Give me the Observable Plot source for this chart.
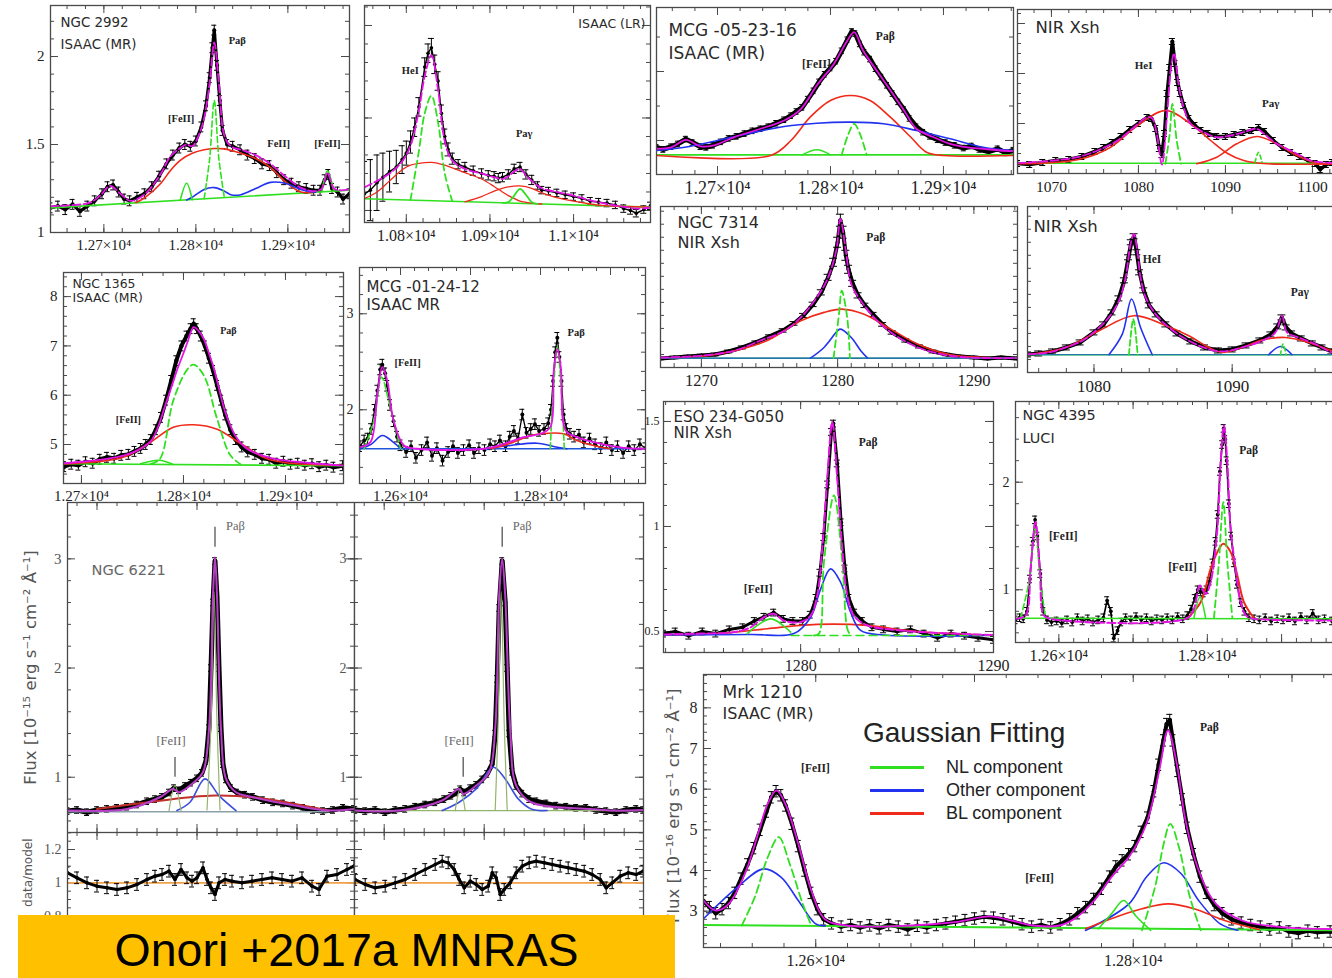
<!DOCTYPE html>
<html><head><meta charset="utf-8">
<script src="https://cdn.jsdelivr.net/npm/d3@7"></script>
<script src="https://cdn.jsdelivr.net/npm/@observablehq/plot@0.6"></script>
<style>
body{margin:0;background:#fff;}
#page{position:relative;width:1332px;height:978px;overflow:hidden;background:#fff;}
</style></head><body><div id="page"></div>
<script>
// ---------- DATA ----------
// P1 NGC 2992
const p1_data=[[12642,1.14],[12650,1.15],[12658,1.13],[12666,1.16],[12674,1.12],[12682,1.15],[12690,1.18],[12698,1.22],[12704,1.26],[12710,1.27],[12716,1.23],[12722,1.19],[12728,1.18],[12736,1.20],[12744,1.22],[12752,1.26],[12760,1.32],[12768,1.39],[12775,1.44],[12782,1.48],[12788,1.50],[12794,1.49],[12800,1.52],[12806,1.60],[12811,1.72],[12815,1.88],[12818,2.05],[12820,2.15],[12823,1.95],[12826,1.75],[12829,1.58],[12834,1.50],[12840,1.49],[12848,1.47],[12856,1.44],[12864,1.42],[12872,1.39],[12880,1.38],[12888,1.34],[12896,1.30],[12904,1.28],[12912,1.26],[12920,1.25],[12928,1.24],[12935,1.24],[12940,1.30],[12944,1.33],[12948,1.25],[12954,1.23],[12960,1.19],[12967,1.22]];
const p1_total=[[12642,1.15],[12664,1.155],[12685,1.17],[12696,1.21],[12707,1.265],[12718,1.22],[12729,1.18],[12745,1.22],[12762,1.335],[12772,1.43],[12783,1.48],[12790,1.50],[12796,1.49],[12803,1.55],[12809,1.65],[12815,1.85],[12820,2.08],[12825,1.85],[12831,1.55],[12838,1.49],[12849,1.47],[12865,1.44],[12881,1.39],[12897,1.32],[12914,1.255],[12930,1.235],[12937,1.25],[12943,1.34],[12950,1.25],[12957,1.24],[12967,1.245]];
const p1_bl=[[12735,1.17],[12745,1.20],[12762,1.28],[12772,1.35],[12783,1.41],[12796,1.45],[12809,1.47],[12820,1.477],[12831,1.475],[12849,1.45],[12865,1.42],[12881,1.37],[12897,1.29],[12914,1.23],[12930,1.229]];
const p1_other=[[12790,1.185],[12796,1.20],[12809,1.245],[12820,1.255],[12831,1.235],[12838,1.215],[12849,1.215],[12865,1.25],[12881,1.285],[12897,1.28],[12914,1.245],[12930,1.229]];
const p1_nl_fe1=[[12783,1.183],[12790,1.28],[12796,1.187]];
const p1_nl_pab=[[12809,1.192],[12815,1.42],[12820,1.75],[12825,1.42],[12831,1.197]];
const p1_nl_fe2=[[12937,1.231],[12943,1.35],[12950,1.234]];
const p1_cont=[[12642,1.14],[12967,1.24]];
const p1_lines=[["Paβ",12845,2.09],["[FeII]",12784,1.648],["FeII]",12890,1.506],["[FeII]",12943,1.506]];
const p1_xt=[12700,12800,12900], p1_yt=[1,1.5,2];

// P2 ISAAC (LR)
const p2_data=[[10750,1.18,0.35],[10757,1.22,0.33],[10765,1.30,0.30],[10772,1.36,0.26],[10780,1.42,0.22],[10788,1.47,0.18],[10795,1.55,0.15],[10800,1.62,0.13],[10805,1.74,0.12],[10810,1.90,0.1],[10815,2.12,0.1],[10822,2.55,0.1],[10826,2.70,0.1],[10830,2.76,0.1],[10834,2.58,0.1],[10838,2.40,0.1],[10842,2.05,0.09],[10846,1.80,0.08],[10850,1.66,0.07],[10855,1.56,0.06],[10862,1.50,0.05],[10870,1.47,0.05],[10880,1.43,0.05],[10890,1.40,0.05],[10898,1.38,0.05],[10905,1.37,0.05],[10910,1.35,0.05],[10915,1.36,0.05],[10922,1.39,0.05],[10929,1.45,0.05],[10936,1.47,0.05],[10943,1.39,0.05],[10950,1.33,0.05],[10957,1.27,0.04],[10962,1.22,0.04],[10970,1.21,0.04],[10980,1.19,0.04],[10990,1.17,0.04],[11000,1.15,0.04],[11010,1.13,0.04],[11020,1.10,0.04],[11030,1.09,0.04],[11040,1.08,0.04],[11050,1.06,0.04],[11060,1.02,0.04],[11068,1.00,0.04],[11075,0.97,0.04],[11084,1.01,0.04],[11092,1.05,0.04]];
const p2_total=[[10750,1.25],[10765,1.32],[10780,1.40],[10795,1.53],[10805,1.70],[10815,2.08],[10822,2.45],[10830,2.68],[10838,2.30],[10846,1.75],[10855,1.54],[10870,1.45],[10890,1.40],[10905,1.36],[10915,1.34],[10922,1.37],[10929,1.42],[10936,1.45],[10943,1.38],[10950,1.32],[10962,1.24],[10980,1.20],[11000,1.16],[11020,1.11],[11040,1.07],[11060,1.04],[11075,1.02],[11092,1.03]];
const p2_bl1=[[10750,1.13],[10765,1.20],[10780,1.32],[10795,1.44],[10805,1.49],[10815,1.51],[10830,1.52],[10846,1.49],[10855,1.46],[10870,1.41],[10890,1.34],[10905,1.26],[10915,1.20],[10922,1.16],[10929,1.13],[10936,1.10],[10950,1.08],[10962,1.07]];
const p2_bl2=[[10870,1.094],[10890,1.15],[10905,1.21],[10915,1.24],[10922,1.255],[10936,1.265],[10950,1.24],[10962,1.19],[10980,1.14],[11000,1.10],[11020,1.07],[11040,1.05],[11060,1.044],[11092,1.036]];
const p2_nl_hei=[[10805,1.112],[10815,1.64],[10822,2.05],[10830,2.24],[10838,1.95],[10846,1.40],[10855,1.10]];
const p2_nl_pag=[[10915,1.083],[10922,1.09],[10929,1.16],[10936,1.234],[10943,1.17],[10950,1.09],[10957,1.072]];
const p2_cont=[[10750,1.126],[11092,1.036]];
const p2_lines=[["HeI",10804.8,2.51],["Paγ",10941,1.83]];
const p2_xt=[10800,10900,11000];

// P3 MCG -05-23-16
const p3_data=[[12646,0.90],[12652,0.87],[12659,0.91],[12665,0.95],[12672,1.02],[12678,0.97],[12685,0.91],[12690,0.90],[12696,0.93],[12703,0.98],[12710,1.03],[12717,1.06],[12724,1.10],[12731,1.14],[12738,1.17],[12745,1.20],[12752,1.25],[12759,1.30],[12765,1.36],[12770,1.42],[12775,1.48],[12780,1.60],[12785,1.72],[12790,1.85],[12795,1.96],[12800,2.05],[12805,2.15],[12810,2.30],[12815,2.46],[12819,2.58],[12822,2.55],[12826,2.40],[12830,2.28],[12835,2.18],[12840,2.04],[12845,1.92],[12850,1.80],[12855,1.68],[12860,1.56],[12865,1.45],[12870,1.32],[12876,1.20],[12882,1.12],[12888,1.06],[12895,1.01],[12902,0.97],[12910,0.93],[12918,0.89],[12925,0.92],[12932,0.87],[12940,0.84],[12948,0.88],[12955,0.82],[12962,0.86]];
const p3_total=[[12646,0.88],[12659,0.90],[12672,1.01],[12685,0.915],[12696,0.925],[12715,1.05],[12738,1.17],[12759,1.29],[12774,1.46],[12788,1.80],[12803,2.11],[12815,2.45],[12821,2.57],[12829,2.30],[12841,2.01],[12853,1.73],[12865,1.44],[12876,1.17],[12891,1.05],[12906,0.95],[12921,0.90],[12935,0.88],[12950,0.855],[12962,0.845]];
const p3_bl=[[12646,0.783],[12747,0.783],[12765,1.0],[12782,1.338],[12800,1.58],[12818,1.652],[12835,1.58],[12853,1.338],[12871,1.05],[12885,0.83],[12900,0.783],[12962,0.783]];
const p3_other=[[12646,0.855],[12671,0.903],[12700,1.0],[12729,1.106],[12759,1.203],[12788,1.251],[12818,1.266],[12847,1.242],[12876,1.145],[12906,1.024],[12935,0.903],[12962,0.855]];
const p3_nl_fe=[[12775,0.792],[12788,0.865],[12800,0.792]];
const p3_nl_pab=[[12810,0.792],[12816,1.1],[12821,1.242],[12826,1.1],[12832,0.792]];
const p3_cont=[[12646,0.792],[12962,0.792]];
const p3_lines=[["Paβ",12848.5,2.507],["[FeII]",12787.6,2.10]];
const p3_xt=[12700,12800,12900];

// P4 NIR Xsh (HeI / Pa gamma)
const p4_data=[[1066.1,0.10],[1067.5,0.09],[1069,0.11],[1070.5,0.13],[1072,0.14],[1073.5,0.17],[1075,0.22],[1076,0.26],[1077,0.31],[1078,0.37],[1079,0.44],[1080,0.50],[1081,0.56],[1081.5,0.55],[1082,0.45],[1082.4,0.25],[1082.7,0.19],[1083,0.40],[1083.3,0.80],[1083.6,1.06],[1083.9,1.32],[1084.2,1.10],[1084.5,0.91],[1084.8,0.80],[1085.2,0.68],[1085.8,0.55],[1086.5,0.48],[1087.2,0.43],[1088,0.40],[1089,0.37],[1090,0.37],[1091,0.39],[1092,0.41],[1093,0.43],[1093.8,0.46],[1094.5,0.42],[1095.5,0.33],[1096.5,0.26],[1097.5,0.21],[1098.5,0.17],[1099.5,0.13],[1100.3,0.10],[1100.9,0.04],[1101.6,0.09],[1102.3,0.11],[1103.5,0.10]];
const p4_total=[[1066.1,0.103],[1070.3,0.13],[1073,0.163],[1075.3,0.23],[1077.6,0.33],[1079.5,0.463],[1081,0.563],[1081.6,0.55],[1082.1,0.40],[1082.7,0.09],[1083.3,0.60],[1083.8,1.10],[1084.1,1.20],[1084.6,0.90],[1085.2,0.66],[1086.0,0.497],[1087.5,0.413],[1089.0,0.363],[1090.6,0.38],[1092.1,0.413],[1093.6,0.447],[1094.4,0.40],[1095.9,0.297],[1097.9,0.213],[1099.8,0.13],[1100.9,0.113],[1103.8,0.10]];
const p4_bl1=[[1066.1,0.097],[1073,0.137],[1076.8,0.263],[1079.9,0.48],[1083.1,0.63],[1086.0,0.497],[1088.3,0.33],[1090.2,0.203],[1092.1,0.13],[1094.4,0.10],[1103.8,0.097]];
const p4_bl2=[[1086.7,0.097],[1089.0,0.163],[1091.3,0.297],[1093.6,0.37],[1095.9,0.297],[1098.2,0.18],[1100.5,0.103],[1102.3,0.097]];
const p4_nl_hei=[[1083.1,0.097],[1083.6,0.40],[1083.9,0.697],[1084.4,0.33],[1084.9,0.097]];
const p4_nl_pag=[[1093.4,0.113],[1093.8,0.213],[1094.2,0.113]];
const p4_cont=[[1066.1,0.103],[1103.8,0.103]];
const p4_lines=[["HeI",1080.6,1.08],["Paγ",1095.2,0.70]];
const p4_xt=[1070,1080,1090,1100];

// P5 NGC 1365
const p5_data=[[12683,4.55],[12690,4.60],[12697,4.58],[12704,4.65],[12711,4.62],[12718,4.70],[12725,4.74],[12732,4.72],[12739,4.78],[12746,4.80],[12752,4.86],[12758,4.92],[12763,5.00],[12768,5.10],[12773,5.30],[12778,5.55],[12783,5.90],[12788,6.30],[12793,6.70],[12798,7.00],[12803,7.20],[12807,7.35],[12810,7.45],[12813,7.35],[12817,7.20],[12821,7.00],[12825,6.75],[12829,6.50],[12833,6.20],[12837,5.90],[12841,5.60],[12846,5.30],[12851,5.10],[12857,4.95],[12863,4.85],[12870,4.80],[12877,4.72],[12884,4.70],[12891,4.62],[12898,4.66],[12905,4.60],[12912,4.62],[12919,4.58],[12926,4.61],[12933,4.55],[12940,4.58],[12947,4.54],[12956,4.57]];
const p5_total=[[12683,4.62],[12705,4.66],[12725,4.71],[12742,4.78],[12755,4.88],[12768,5.07],[12775,5.35],[12781,5.72],[12788,6.15],[12794,6.53],[12800,6.85],[12804,7.08],[12810,7.38],[12815,7.30],[12820,7.14],[12825,6.85],[12830,6.53],[12835,6.12],[12840,5.72],[12846,5.38],[12853,5.11],[12860,4.95],[12869,4.84],[12889,4.71],[12921,4.63],[12956,4.57]];
const p5_bl=[[12683,4.608],[12741,4.742],[12768,5.05],[12790,5.35],[12810,5.40],[12833,5.31],[12856,5.02],[12882,4.709],[12905,4.62],[12956,4.58]];
const p5_nl_pab=[[12768,4.608],[12777,4.709],[12790,5.89],[12804,6.53],[12810,6.62],[12820,6.40],[12833,5.52],[12846,4.78],[12856,4.60]];
const p5_nl_fe=[[12758,4.608],[12776,4.68],[12790,4.595]];
const p5_cont=[[12683,4.61],[12956,4.57]];
const p5_lines=[["Paβ",12844,7.31],["[FeII]",12746,5.51]];
const p5_xt=[12700,12800,12900], p5_yt=[5,6,7,8];

// P6 MCG -01-24-12
const p6_data=[[12542,1.62],[12548,1.68],[12553,1.70],[12558,1.80],[12563,2.00],[12567,2.20],[12571,2.42],[12574,2.47],[12578,2.38],[12581,2.25],[12585,2.05],[12590,1.88],[12595,1.72],[12600,1.63],[12608,1.56],[12615,1.62],[12622,1.50],[12630,1.58],[12638,1.66],[12645,1.52],[12652,1.60],[12660,1.47],[12668,1.56],[12675,1.62],[12682,1.55],[12690,1.58],[12698,1.63],[12705,1.55],[12712,1.60],[12720,1.58],[12728,1.64],[12735,1.62],[12742,1.68],[12750,1.62],[12756,1.72],[12762,1.78],[12768,1.70],[12774,1.95],[12780,1.76],[12786,1.80],[12792,1.85],[12798,1.78],[12805,1.80],[12811,1.86],[12815,2.00],[12818,2.30],[12821,2.60],[12824,2.75],[12827,2.55],[12830,2.30],[12833,1.95],[12837,1.80],[12842,1.75],[12848,1.72],[12855,1.74],[12862,1.66],[12870,1.70],[12878,1.64],[12886,1.60],[12894,1.66],[12902,1.58],[12910,1.62],[12918,1.55],[12926,1.62],[12934,1.58],[12942,1.64],[12950,1.60]];
const p6_total=[[12542,1.61],[12557,1.663],[12567,2.167],[12574,2.444],[12581,2.305],[12590,1.889],[12605,1.628],[12624,1.594],[12719,1.594],[12748,1.646],[12776,1.715],[12800,1.75],[12814,1.819],[12819,2.41],[12824,2.635],[12829,2.444],[12836,1.784],[12852,1.715],[12886,1.646],[12919,1.604],[12950,1.594]];
const p6_nl_fe=[[12548,1.594],[12562,1.889],[12573,2.34],[12583,2.097],[12600,1.594]];
const p6_nl_pab=[[12814,1.594],[12818,2.167],[12824,2.652],[12830,2.167],[12834,1.594]];
const p6_other_fe=[[12543,1.594],[12558,1.64],[12574,1.732],[12590,1.66],[12600,1.594]];
const p6_other_pab=[[12719,1.594],[12757,1.628],[12795,1.652],[12824,1.61],[12838,1.594]];
const p6_bl=[[12729,1.594],[12757,1.652],[12786,1.732],[12800,1.75],[12833,1.75],[12852,1.68],[12886,1.61],[12900,1.594]];
const p6_cont=[[12542,1.594],[12950,1.594]];
const p6_lines=[["Paβ",12851,2.80],["[FeII]",12610,2.49]];
const p6_xt=[12600,12800], p6_yt=[2,3];

// P7 NGC 7314
const p7_data=[[1267.0,0.09,0.012],[1268,0.10,0.012],[1269,0.11,0.012],[1270,0.12,0.012],[1271,0.13,0.014],[1272,0.16,0.014],[1273,0.20,0.015],[1274,0.25,0.015],[1275,0.31,0.016],[1276,0.37,0.017],[1276.8,0.44,0.018],[1277.5,0.52,0.02],[1278.2,0.63,0.022],[1278.8,0.75,0.026],[1279.3,0.90,0.03],[1279.7,1.05,0.04],[1280.0,1.25,0.05],[1280.2,1.47,0.06],[1280.4,1.35,0.06],[1280.6,1.12,0.05],[1280.8,0.98,0.04],[1281.1,0.84,0.03],[1281.5,0.72,0.026],[1282,0.62,0.022],[1282.6,0.53,0.02],[1283.3,0.43,0.018],[1284,0.35,0.017],[1285,0.27,0.016],[1286,0.21,0.015],[1287,0.16,0.014],[1288,0.13,0.012],[1289,0.11,0.012],[1290,0.10,0.012],[1291,0.09,0.012],[1292,0.10,0.012],[1293.2,0.09,0.012]];
const p7_total=[[1267.0,0.10],[1269.9,0.117],[1272.4,0.167],[1274.3,0.267],[1276.1,0.367],[1277.3,0.50],[1278.3,0.667],[1279.2,0.867],[1279.9,1.167],[1280.2,1.483],[1280.6,1.167],[1281.0,0.833],[1281.7,0.667],[1282.9,0.467],[1284.1,0.333],[1285.9,0.20],[1287.8,0.127],[1289.5,0.10],[1293.2,0.093]];
const p7_bl=[[1267.0,0.093],[1271.2,0.133],[1274.8,0.267],[1277.3,0.467],[1279.0,0.55],[1280.3,0.583],[1281.9,0.533],[1283.9,0.383],[1285.9,0.233],[1288.3,0.127],[1290.8,0.10],[1293.2,0.093]];
const p7_other=[[1278.0,0.093],[1279.0,0.20],[1280.0,0.367],[1280.2,0.383],[1281.0,0.30],[1281.7,0.167],[1282.2,0.093]];
const p7_nl=[[1279.7,0.093],[1280.1,0.533],[1280.3,0.767],[1280.7,0.50],[1280.9,0.093]];
const p7_cont=[[1267.0,0.093],[1293.2,0.093]];
const p7_lines=[["Paβ",1282.8,1.297]];
const p7_xt=[1270,1280,1290];

// P8 NIR Xsh (second)
const p8_data=[[1075.19,0.18],[1076,0.19],[1077,0.21],[1078,0.25],[1079,0.30],[1080,0.40],[1080.7,0.48],[1081.3,0.60],[1081.8,0.74],[1082.2,0.92],[1082.5,1.15],[1082.7,1.30],[1082.9,1.36],[1083.1,1.20],[1083.3,1.00],[1083.6,0.82],[1084,0.67],[1084.5,0.58],[1085.2,0.48],[1086,0.39],[1087,0.31],[1088,0.25],[1089,0.22],[1090,0.23],[1091,0.27],[1092,0.32],[1092.8,0.38],[1093.3,0.46],[1093.6,0.55],[1093.9,0.45],[1094.3,0.39],[1095,0.34],[1095.8,0.29],[1096.5,0.25],[1097.2,0.21],[1098.2,0.18]];
const p8_total=[[1075.19,0.183],[1076.75,0.20],[1077.95,0.25],[1079.16,0.317],[1080.12,0.417],[1081.08,0.55],[1081.81,0.717],[1082.29,0.95],[1082.65,1.283],[1082.89,1.383],[1083.13,1.217],[1083.37,0.95],[1083.74,0.75],[1084.46,0.583],[1085.42,0.45],[1086.86,0.317],[1088.31,0.233],[1089.28,0.21],[1090.72,0.25],[1092.17,0.317],[1093.13,0.40],[1093.61,0.567],[1093.97,0.40],[1094.81,0.35],[1096.02,0.283],[1097.22,0.20],[1098.2,0.18]];
const p8_bl=[[1075.19,0.177],[1077.95,0.25],[1080.36,0.417],[1082.89,0.567],[1085.18,0.47],[1086.86,0.367],[1088.31,0.25],[1089.28,0.20],[1090.72,0.25],[1092.17,0.323],[1093.85,0.35],[1095.53,0.30],[1097.22,0.217],[1098.2,0.19]];
const p8_other_hei=[[1081.08,0.177],[1082.05,0.383],[1082.72,0.733],[1083.37,0.45],[1084.22,0.177]];
const p8_other_pag=[[1092.64,0.177],[1093.49,0.26],[1094.33,0.177]];
const p8_nl_hei=[[1082.53,0.177],[1082.85,0.533],[1083.16,0.177]];
const p8_nl_pag=[[1093.49,0.177],[1093.68,0.283],[1093.9,0.177]];
const p8_cont=[[1075.19,0.177],[1098.2,0.177]];
const p8_lines=[["HeI",1084.2,1.127],["Paγ",1094.9,0.797]];
const p8_xt=[1080,1090];

// P9 ESO 234-G050
const p9_data=[[1272.89,0.49],[1273.5,0.50],[1274.2,0.48],[1274.9,0.50],[1275.6,0.49],[1276.3,0.51],[1277,0.52],[1277.6,0.55],[1278.1,0.57],[1278.6,0.59],[1279.1,0.56],[1279.6,0.55],[1280.1,0.55],[1280.5,0.58],[1280.8,0.66],[1281.0,0.78],[1281.2,0.95],[1281.4,1.20],[1281.6,1.45],[1281.7,1.49],[1281.9,1.30],[1282.1,1.02],[1282.3,0.80],[1282.5,0.66],[1282.8,0.59],[1283.2,0.55],[1283.7,0.52],[1284.3,0.51],[1285,0.50],[1285.7,0.51],[1286.4,0.49],[1287.1,0.47],[1287.8,0.49],[1288.5,0.48],[1289.2,0.47],[1290.0,0.46]];
const p9_total=[[1272.89,0.486],[1274.82,0.49],[1276.54,0.497],[1277.41,0.52],[1278.1,0.568],[1278.62,0.584],[1279.13,0.552],[1280.0,0.545],[1280.52,0.576],[1280.86,0.671],[1281.12,0.894],[1281.38,1.227],[1281.64,1.497],[1281.9,1.227],[1282.16,0.894],[1282.42,0.671],[1282.76,0.576],[1283.45,0.529],[1285.18,0.505],[1286.91,0.494],[1290.0,0.483]];
const p9_bl=[[1272.89,0.483],[1275.68,0.49],[1278.27,0.513],[1280.0,0.529],[1281.64,0.535],[1283.45,0.529],[1286.05,0.5],[1290,0.483]];
const p9_other=[[1272.89,0.483],[1277.41,0.486],[1279.65,0.49],[1280.52,0.568],[1281.04,0.703],[1281.55,0.798],[1282.07,0.735],[1282.59,0.592],[1283.11,0.505],[1284.32,0.483],[1290,0.483]];
const p9_nl_pab=[[1280.69,0.481],[1280.95,0.49],[1281.21,0.830],[1281.73,1.148],[1282.16,0.830],[1282.42,0.513],[1282.59,0.481]];
const p9_nl_fe=[[1277.24,0.49],[1278.45,0.56],[1279.48,0.497]];
const p9_nl_base=[[1279.5,0.481],[1290,0.481]];
const p9_lines=[["Paβ",1283.5,1.40],["[FeII]",1277.8,0.70]];
const p9_xt=[1280,1290], p9_yt=[0.5,1,1.5];

// P10 NGC 4395
const p10_data=[[12541.6,0.72],[12547,0.74],[12552,0.73],[12557,0.80],[12561,1.10],[12565,1.45],[12568,1.65],[12571,1.50],[12575,1.15],[12579,0.80],[12584,0.72],[12590,0.70],[12597,0.71],[12604,0.69],[12611,0.72],[12618,0.70],[12625,0.74],[12632,0.71],[12639,0.73],[12646,0.70],[12653,0.72],[12660,0.74],[12665,0.90],[12670,0.80],[12674,0.55],[12679,0.62],[12684,0.70],[12690,0.74],[12697,0.72],[12704,0.75],[12711,0.72],[12718,0.74],[12725,0.71],[12732,0.73],[12739,0.72],[12746,0.74],[12753,0.72],[12760,0.75],[12767,0.73],[12773,0.76],[12778,0.82],[12783,0.92],[12787,1.00],[12791,0.98],[12795,0.97],[12799,1.00],[12803,1.08],[12807,1.25],[12811,1.45],[12814,1.70],[12817,2.10],[12820,2.35],[12822,2.50],[12824,2.40],[12826,2.20],[12829,1.80],[12832,1.50],[12836,1.25],[12840,1.05],[12845,0.88],[12850,0.80],[12856,0.74],[12863,0.73],[12870,0.72],[12878,0.74],[12886,0.71],[12894,0.73],[12902,0.72],[12910,0.74],[12918,0.71],[12926,0.75],[12934,0.72],[12942,0.78],[12950,0.72],[12958,0.73],[12968,0.71],[12980,0.73]];
const p10_total=[[12541.6,0.73],[12555.1,0.761],[12561.9,1.195],[12568.6,1.629],[12574.4,1.195],[12579.8,0.761],[12588.8,0.73],[12773,0.736],[12781.9,0.823],[12790.0,1.04],[12797.7,0.96],[12804.4,1.071],[12813.5,1.567],[12817.9,2.187],[12822.4,2.528],[12826.9,2.187],[12831.4,1.567],[12838.1,1.195],[12844.9,0.885],[12853.9,0.75],[12880.9,0.724],[12986,0.716]];
const p10_bl=[[12773,0.736],[12791,0.885],[12804.4,1.195],[12813.5,1.35],[12821.5,1.428],[12831.4,1.35],[12840.4,1.133],[12849.3,0.885],[12862.8,0.736]];
const p10_nl_fe1=[[12548.4,0.736],[12559.6,1.071],[12567.7,1.567],[12575.3,1.071],[12582.1,0.736]];
const p10_nl_fe2=[[12781.9,0.736],[12790,0.93],[12797.7,0.736]];
const p10_nl_pab=[[12808.9,0.736],[12815.6,1.257],[12821.5,1.815],[12826.9,1.257],[12833.7,0.736]];
const p10_cont=[[12541.6,0.736],[12986,0.73]];
const p10_lines=[["Paβ",12855.7,2.30],["[FeII]",12606,1.50],["[FeII]",12766.6,1.21]];
const p10_xt=[12600,12800], p10_yt=[1,2];

// P11 / P12 NGC 6221 (two fits) + residuals
const p11_data=[[12670.5,0.69],[12680,0.70],[12690,0.68],[12700,0.70],[12710,0.71],[12720,0.72],[12730,0.73],[12740,0.75],[12750,0.78],[12758,0.80],[12765,0.82],[12772,0.86],[12777,0.90],[12782,0.88],[12788,0.92],[12794,0.95],[12800,0.99],[12805,1.04],[12809,1.15],[12812,1.45],[12814,2.00],[12816,2.60],[12818,2.98],[12820,2.65],[12822,2.00],[12824,1.45],[12826,1.12],[12829,0.98],[12834,0.90],[12840,0.86],[12848,0.84],[12856,0.82],[12866,0.79],[12876,0.77],[12886,0.76],[12896,0.74],[12906,0.72],[12916,0.70],[12926,0.69],[12936,0.70],[12946,0.72],[12957,0.71]];
const p11_total=[[12670.5,0.695],[12730,0.71],[12763,0.817],[12776,0.893],[12782,0.863],[12797,0.954],[12806,1.046],[12812,1.443],[12816,2.664],[12818,3.015],[12820,2.664],[12824,1.443],[12829,0.985],[12839,0.863],[12856,0.817],[12898,0.741],[12932,0.695],[12957,0.71]];
const p11_bl=[[12700,0.71],[12751,0.771],[12793,0.817],[12818,0.832],[12856,0.817],[12898,0.756],[12932,0.695]];
const p11_other=[[12780,0.695],[12793,0.771],[12808,0.985],[12822,0.832],[12839,0.695]];
const p11_nl_fe=[[12772,0.695],[12778,0.924],[12784,0.695]];
const p11_nl_pab=[[12810,0.70],[12814,1.5],[12817,2.70],[12820,1.5],[12823,0.70]];
const p11_cont=[[12670.5,0.685],[12932,0.685]];
const p11_marks=[[12818,3.107,3.29],[12778,1.0,1.18]];
const p11_lines=[["Paβ",12838.5,3.305],["[FeII]",12774,1.336]];
const p11_yt=[1,2,3];
const p12_data=[[12671,0.70],[12681,0.69],[12691,0.70],[12701,0.68],[12711,0.70],[12721,0.71],[12731,0.73],[12741,0.75],[12751,0.77],[12760,0.80],[12767,0.83],[12772,0.86],[12776,0.89],[12780,0.86],[12786,0.90],[12792,0.93],[12798,0.98],[12803,1.03],[12808,1.12],[12811,1.40],[12813,1.90],[12815,2.55],[12818,2.98],[12821,2.60],[12823,2.00],[12825,1.40],[12828,1.05],[12832,0.92],[12838,0.85],[12845,0.80],[12852,0.78],[12862,0.76],[12872,0.74],[12882,0.73],[12892,0.72],[12902,0.72],[12912,0.70],[12922,0.69],[12932,0.68],[12942,0.70],[12952,0.71],[12959,0.70]];
const p12_total=[[12670.3,0.695],[12715,0.695],[12758,0.787],[12775,0.893],[12779,0.847],[12792,0.924],[12805,1.046],[12811,1.443],[12815,2.664],[12818,3.0],[12821,2.664],[12826,1.443],[12832,0.924],[12847,0.771],[12906,0.71],[12927,0.695],[12959,0.70]];
const p12_other=[[12758,0.695],[12775,0.771],[12792,0.893],[12809,1.092],[12821,0.985],[12834,0.802],[12847,0.71],[12863,0.695]];
const p12_nl_fe=[[12771,0.695],[12776,0.893],[12781,0.695]];
const p12_nl_pab=[[12811,0.70],[12814,1.5],[12817,2.7],[12820,1.5],[12823,0.70]];
const p12_cont=[[12670.3,0.695],[12959,0.695]];
const p12_marks=[[12818,3.107,3.29],[12779,1.0,1.18]];
const p12_lines=[["Paβ",12838,3.305],["[FeII]",12775,1.336]];
const p11_res=[[12670.5,1.06],[12680,1.03],[12690,1.00],[12700,0.98],[12710,0.97],[12720,0.96],[12730,0.97],[12740,0.99],[12750,1.02],[12758,1.04],[12765,1.05],[12772,1.07],[12778,1.02],[12784,1.08],[12790,1.03],[12795,1.01],[12800,1.03],[12806,1.09],[12810,1.02],[12814,0.97],[12818,0.93],[12822,1.00],[12828,1.02],[12835,1.01],[12845,1.00],[12855,1.01],[12865,1.02],[12875,1.03],[12885,1.02],[12895,1.01],[12905,1.03],[12915,0.98],[12922,0.96],[12930,1.04],[12940,1.05],[12950,1.08],[12957,1.10]];
const p12_res=[[12671,1.02],[12681,0.99],[12691,0.97],[12701,0.98],[12711,1.00],[12721,1.02],[12731,1.05],[12741,1.08],[12751,1.11],[12758,1.13],[12764,1.12],[12770,1.08],[12775,1.02],[12780,0.97],[12786,1.01],[12792,0.99],[12798,0.96],[12804,0.98],[12808,1.06],[12812,1.03],[12816,0.93],[12820,0.96],[12826,1.00],[12832,1.06],[12838,1.10],[12845,1.12],[12852,1.13],[12860,1.12],[12868,1.11],[12876,1.10],[12884,1.09],[12892,1.08],[12900,1.07],[12908,1.05],[12916,1.02],[12922,0.97],[12928,1.00],[12936,1.04],[12944,1.06],[12952,1.05],[12959,1.07]];
const res_ref=[1], res_yt=[0.8,1,1.2];

// P13 Mrk 1210
const p13_data=[[12529.3,3.25],[12533,3.10],[12537,2.95],[12541,3.05],[12545,3.20],[12549,3.45],[12553,3.80],[12557,4.15],[12561,4.55],[12565,5.00],[12569,5.45],[12572,5.80],[12575,5.95],[12578,5.85],[12581,5.60],[12585,5.15],[12589,4.60],[12593,4.00],[12597,3.45],[12601,3.05],[12605,2.80],[12610,2.70],[12616,2.62],[12622,2.66],[12628,2.60],[12634,2.65],[12640,2.58],[12646,2.66],[12652,2.62],[12658,2.55],[12664,2.64],[12670,2.60],[12676,2.66],[12682,2.70],[12688,2.74],[12694,2.78],[12700,2.82],[12706,2.86],[12712,2.84],[12718,2.80],[12724,2.74],[12730,2.68],[12736,2.62],[12742,2.66],[12748,2.60],[12754,2.68],[12760,2.80],[12765,2.95],[12770,3.10],[12775,3.30],[12780,3.55],[12785,3.85],[12789,4.10],[12793,4.25],[12797,4.40],[12801,4.60],[12805,4.95],[12809,5.30],[12813,5.95],[12816,6.60],[12819,7.20],[12821,7.60],[12823,7.70],[12825,7.20],[12828,6.45],[12831,5.75],[12834,5.05],[12838,4.40],[12842,3.85],[12846,3.45],[12851,3.15],[12856,2.95],[12862,2.80],[12868,2.72],[12874,2.66],[12880,2.62],[12886,2.55],[12892,2.60],[12898,2.50],[12904,2.46],[12910,2.52],[12916,2.48],[12924,2.50],[12933,2.47]];
const p13_total=[[12529.3,3.263],[12537,3.016],[12545.2,3.181],[12556.2,4.003],[12564.3,4.987],[12569.8,5.643],[12575.3,5.971],[12580.8,5.643],[12589,4.66],[12597.2,3.51],[12605.5,2.812],[12619.2,2.648],[12660.3,2.648],[12687.7,2.73],[12709.6,2.87],[12723.3,2.77],[12737,2.648],[12753.5,2.648],[12764.4,2.853],[12775.4,3.263],[12786.3,3.839],[12794.5,4.20],[12797.3,4.33],[12808.3,5.151],[12816.4,6.463],[12821.9,7.447],[12827.4,6.627],[12832.9,5.233],[12841.2,4.003],[12852.1,3.181],[12868.6,2.771],[12893.2,2.607],[12933.7,2.56]];
const p13_other_fe=[[12529.3,2.813],[12550.7,3.59],[12567.1,4.04],[12578.1,3.84],[12589,3.263],[12600,2.689],[12606,2.64]];
const p13_other_pab=[[12769.9,2.525],[12797.3,3.181],[12808.3,3.84],[12819.2,4.19],[12830.2,3.92],[12841.2,3.263],[12854.8,2.689],[12865.8,2.53]];
const p13_nl_fe=[[12553.4,2.648],[12561.6,3.344],[12569.8,4.33],[12576.7,4.82],[12583.6,4.166],[12591.8,3.18],[12597.2,2.648]];
const p13_nl_pab=[[12805.5,2.53],[12813.7,3.59],[12819.2,4.657],[12823.3,5.149],[12828.8,4.574],[12835.7,3.344],[12842.5,2.53]];
const p13_nl_fe2=[[12778.1,2.566],[12786.3,2.936],[12794,3.263],[12801.4,2.894],[12811,2.53]];
const p13_bl=[[12769.9,2.566],[12791.8,2.894],[12805.5,3.06],[12821.9,3.18],[12838.4,3.06],[12857.6,2.77],[12879.4,2.55]];
const p13_cont=[[12529.3,2.66],[12933.7,2.53]];
const p13_lines=[["[FeII]",12599.8,6.51],["[FeII]",12741,3.81],["Paβ",12848,7.52]];
const p13_xt=[12600,12800], p13_yt=[3,4,5,6,7,8];

const legendTitle="Gaussian Fitting";
const legendLabels=["NL component","Other component","BL component"];

// ---------- DRAWING ----------
const COL={total:"#e414e4",nl:"#30e020",other:"#2233f0",bl:"#f02a1a"};
const G={total:"#b83ec8",nl:"#93b46e",other:"#3c50dc",bl:"#c3302a",cont:"#8aa0aa"};
const SERIF="Liberation Serif", SANS="DejaVu Sans";
const page=document.getElementById("page");
function rng(a,b,s){const o=[];for(let i=Math.ceil(a/s-1e-6);i*s<=b+1e-6;i++)o.push(+(i*s).toFixed(6));return o;}
const fmtE4=v=>String(+(v/1e4).toFixed(4))+"×10⁴";
const XY={x:d=>d[0],y:d=>d[1]};

function build(c){
  const W=c.R-c.L,H=c.B-c.T,mL=c.mL||0,mR=c.mR||0,mT=c.mT||0,mB=c.mB||0;
  const [x0,x1]=c.xd,[y0,y1]=c.yd;
  const ly=p=>p/H*(y1-y0), lx=p=>p/W*(x1-x0);
  const fr="#4a4a4a";
  const M=[];
  function tickSet(xs,ys,len){
    if(xs.length){
      M.push(Plot.ruleX(xs,{x:d=>d,y1:y0,y2:y0+ly(len),stroke:fr,strokeWidth:1}));
      M.push(Plot.ruleX(xs,{x:d=>d,y1:y1,y2:y1-ly(len),stroke:fr,strokeWidth:1}));
    }
    if(ys.length){
      M.push(Plot.ruleY(ys,{y:d=>d,x1:x0,x2:x0+lx(len),stroke:fr,strokeWidth:1}));
      M.push(Plot.ruleY(ys,{y:d=>d,x1:x1,x2:x1-lx(len),stroke:fr,strokeWidth:1}));
    }
  }
  tickSet(c.xMinor?rng(x0,x1,c.xMinor):[],c.yMinor?rng(y0,y1,c.yMinor):[],4);
  tickSet(c.xMajor?rng(x0,x1,c.xMajor):[],c.yMajor?rng(y0,y1,c.yMajor):[],8);
  if(c.outTicks&&c.yLabels) M.push(Plot.ruleY(c.yLabels,{y:d=>d,x1:x0-lx(6),x2:x0,stroke:fr}));
  if(c.ref) M.push(Plot.ruleY(c.ref,{y:d=>d,stroke:"#f2a24a",strokeWidth:1.6}));
  if(c.data){
    const D=c.data.map(p=>({x:p[0],y:p[1],e:p.length>2?p[2]:c.err})).sort((a,b)=>a.x-b.x);
    const cap=lx(c.cap||2.5);
    M.push(Plot.ruleX(D,{x:"x",y1:d=>d.y-d.e,y2:d=>d.y+d.e,stroke:"#000",strokeWidth:1,clip:true}));
    M.push(Plot.ruleY(D,{y:d=>d.y+d.e,x1:d=>d.x-cap,x2:d=>d.x+cap,stroke:"#000",strokeWidth:1,clip:true}));
    M.push(Plot.ruleY(D,{y:d=>d.y-d.e,x1:d=>d.x-cap,x2:d=>d.x+cap,stroke:"#000",strokeWidth:1,clip:true}));
    M.push(Plot.line(D,{x:"x",y:"y",stroke:"#000",strokeWidth:c.dataW||2,clip:true}));
    M.push(Plot.dot(D,{x:"x",y:"y",r:c.dotR||1.8,fill:"#000",clip:true}));
  }
  for(const k of c.comps||[]) M.push(Plot.line(k.pts,{...XY,stroke:k.c,strokeWidth:k.w||1.6,strokeDasharray:k.dash,curve:"catmull-rom",clip:true}));
  if(c.total) M.push(Plot.line(c.total,{...XY,stroke:c.totalColor||COL.total,strokeWidth:c.totalW||1.8,strokeDasharray:c.totalDash,curve:"catmull-rom",clip:true}));
  if(c.markers) M.push(Plot.ruleX(c.markers,{x:d=>d[0],y1:d=>d[1],y2:d=>d[2],stroke:"#555",strokeWidth:1.3}));
  M.push(Plot.frame({stroke:fr,strokeWidth:1.3}));
  if(c.lines) M.push(Plot.text(c.lines,{x:d=>d[1],y:d=>d[2],text:d=>d[0],fontFamily:SERIF,fontWeight:c.lineWeight||"bold",fontSize:c.lineFont||11,fill:c.lineColor||"#222"}));
  for(const n of c.names||[]){
    const end=n[4]==="end";
    M.push(Plot.text([n[0]],{frameAnchor:end?"top-right":"top-left",dx:n[1],dy:n[2],text:d=>d,textAnchor:end?"end":"start",lineAnchor:"middle",fontFamily:SANS,fontSize:n[3],fill:n[5]||"#2a2a2a"}));
  }
  if(c.xLabels) M.push(Plot.text(c.xLabels,{x:d=>d,y:y0,dy:c.xDy||7,lineAnchor:"top",text:c.xFmt||(d=>String(d)),fontFamily:SERIF,fontSize:c.xFont||15,fill:"#222"}));
  if(c.yLabels) M.push(Plot.text(c.yLabels,{x:x0,y:d=>d,dx:-(c.yDx||6),textAnchor:"end",text:d=>String(d),fontFamily:SERIF,fontSize:c.yFont||15,fill:c.yColor||"#222"}));
  if(c.ylabel){const q=c.ylabel;M.push(Plot.text([q.text],{frameAnchor:q.anchor,dx:q.dx,dy:q.dy||0,rotate:-90,text:d=>d,textAnchor:q.ta||"middle",fontFamily:SANS,fontSize:q.size,fill:"#555"}));}
  const svg=Plot.plot({width:W+mL+mR,height:H+mT+mB,marginLeft:mL,marginRight:mR,marginTop:mT,marginBottom:mB,
    x:{domain:c.xd,axis:null},y:{domain:c.yd,axis:null},marks:M,
    style:{background:"transparent",overflow:"hidden"}});
  svg.style.position="absolute";svg.style.left=(c.L-mL)+"px";svg.style.top=(c.T-mT)+"px";svg.style.maxWidth="none";
  page.appendChild(svg);
}

const panels=[
 {L:50,R:349,T:5,B:232,mL:36,mR:6,mT:5,mB:26,xd:[12642,12967],yd:[1,2.29],xMinor:20,xMajor:100,yMinor:0.1,yMajor:0.5,
  xLabels:p1_xt,xFmt:fmtE4,xFont:15,yLabels:p1_yt,yFont:15,data:p1_data,err:0.028,dataW:3.2,dotR:2,
  comps:[{pts:p1_cont,c:COL.nl},{pts:p1_bl,c:COL.bl},{pts:p1_other,c:COL.other},{pts:p1_nl_fe1,c:COL.nl},{pts:p1_nl_pab,c:COL.nl,dash:"6,3"},{pts:p1_nl_fe2,c:COL.nl}],
  total:p1_total,totalDash:"8,3",names:[["NGC 2992",10,17,13.4],["ISAAC (MR)",10,39,13.4]],lines:p1_lines,lineFont:10.5},
 {L:364,R:650,T:5,B:222,mL:10,mR:4,mT:5,mB:26,xd:[10750,11092],yd:[0.87,3.216],xMinor:20,xMajor:100,yMinor:0.2,yMajor:1,
  xLabels:p2_xt,xFmt:fmtE4,xFont:16,data:p2_data,err:0.05,dataW:1.4,dotR:1.8,cap:3,
  comps:[{pts:p2_cont,c:COL.nl},{pts:p2_bl1,c:COL.bl,w:1.3},{pts:p2_bl2,c:COL.bl,w:1.3},{pts:p2_nl_hei,c:COL.nl,dash:"7,4",w:1.8},{pts:p2_nl_pag,c:COL.nl,w:1.8}],
  total:p2_total,totalDash:"8,3",names:[["ISAAC (LR)",-5,18,12.5,"end"]],lines:p2_lines,lineFont:10.5},
 {L:63,R:343,T:272,B:483,mL:30,mR:4,mT:4,mB:20,xd:[12682.4,12956.9],yd:[4.209,8.489],xMinor:20,xMajor:100,yMinor:0.2,yMajor:1,
  xLabels:p5_xt,xFmt:fmtE4,xFont:15,yLabels:p5_yt,yFont:15,data:p5_data,err:0.1,dataW:4,dotR:2.2,
  comps:[{pts:p5_cont,c:COL.nl},{pts:p5_nl_fe,c:COL.nl},{pts:p5_bl,c:COL.bl},{pts:p5_nl_pab,c:COL.nl,dash:"7,4",w:1.8}],
  total:p5_total,names:[["NGC 1365",9,12,12.4],["ISAAC (MR)",9,26,12.4]],lines:p5_lines,lineFont:10},
 {L:359,R:645,T:267,B:483,mL:16,mR:4,mT:4,mB:20,xd:[12541.4,12950],yd:[1.232,3.482],xMinor:20,xMajor:100,yMinor:0.2,yMajor:1,
  xLabels:p6_xt,xFmt:fmtE4,xFont:15,yLabels:p6_yt,yFont:14,data:p6_data,err:0.055,dataW:1.3,dotR:2,
  comps:[{pts:p6_cont,c:"#1f55d8"},{pts:p6_other_fe,c:COL.other},{pts:p6_other_pab,c:COL.other},{pts:p6_bl,c:COL.bl},{pts:p6_nl_fe,c:COL.nl,dash:"6,3"},{pts:p6_nl_pab,c:COL.nl,dash:"6,3"}],
  total:p6_total,names:[["MCG -01-24-12",7,20,15],["ISAAC MR",7,38,15]],lines:p6_lines,lineFont:10.5},
 {L:67,R:354,T:502,B:832,mL:50,mR:0,mT:3,mB:0,xd:[12670.5,12957.5],yd:[0.494,3.516],xMinor:20,xMajor:100,yMinor:0.2,yMajor:1,
  yLabels:p11_yt,yFont:15,yColor:"#555",data:p11_data,err:0.03,dataW:5,dotR:2.2,
  comps:[{pts:p11_cont,c:G.cont,w:1.5},{pts:p11_bl,c:G.bl,w:2},{pts:p11_other,c:G.other},{pts:p11_nl_fe,c:G.nl,w:1.2},{pts:p11_nl_pab,c:G.nl,w:1.2}],
  total:p11_total,totalColor:G.total,totalW:2,markers:p11_marks,names:[["NGC 6221",24,68,14.6,"start","#666"]],
  lines:p11_lines,lineFont:12.5,lineWeight:"normal",lineColor:"#666",
  ylabel:{text:"Flux [10⁻¹⁵ erg s⁻¹ cm⁻² Å⁻¹]",anchor:"left",dx:-37,size:16.5}},
 {L:67,R:354,T:832,B:935,mL:50,mR:0,mT:0,mB:0,xd:[12670.5,12957.5],yd:[0.684,1.302],xMinor:20,xMajor:100,yMinor:0.05,yMajor:0.2,
  yLabels:res_yt,yFont:14,yColor:"#555",ref:res_ref,data:p11_res,err:0.035,dataW:3,dotR:1.8,
  ylabel:{text:"data/model",anchor:"top-left",dx:-44,dy:6,ta:"end",size:12}},
 {L:354,R:643,T:502,B:832,mL:24,mR:4,mT:3,mB:0,xd:[12670.3,12959.3],yd:[0.494,3.516],xMinor:20,xMajor:100,yMinor:0.2,yMajor:1,
  yLabels:p11_yt,yFont:14,yColor:"#555",yDx:8,outTicks:true,data:p12_data,err:0.03,dataW:5,dotR:2.2,
  comps:[{pts:p12_cont,c:G.nl,w:1.3},{pts:p12_other,c:G.other},{pts:p12_nl_fe,c:G.nl,w:1.2},{pts:p12_nl_pab,c:G.nl,w:1.2}],
  total:p12_total,totalColor:G.total,totalW:2,markers:p12_marks,lines:p12_lines,lineFont:12.5,lineWeight:"normal",lineColor:"#666"},
 {L:354,R:643,T:832,B:935,mL:24,mR:4,mT:0,mB:0,xd:[12670.3,12959.3],yd:[0.684,1.302],xMinor:20,xMajor:100,yMinor:0.05,yMajor:0.2,
  ref:res_ref,data:p12_res,err:0.035,dataW:3,dotR:1.8},
 {L:656,R:1013,T:7,B:174,mL:4,mR:4,mT:7,mB:27,xd:[12646,12962],yd:[0.507,2.928],xMinor:20,xMajor:100,yMinor:0.5,yMajor:1,
  xLabels:p3_xt,xFmt:fmtE4,xFont:18,data:p3_data,err:0.04,dataW:5,dotR:2.2,
  comps:[{pts:p3_cont,c:COL.nl},{pts:p3_bl,c:COL.bl},{pts:p3_other,c:COL.other},{pts:p3_nl_fe,c:COL.nl},{pts:p3_nl_pab,c:COL.nl,dash:"7,4",w:1.8}],
  total:p3_total,names:[["MCG -05-23-16",12,23,17],["ISAAC (MR)",12,46,17]],lines:p3_lines,lineFont:11.5},
 {L:1017,R:1345,T:9,B:173,mL:4,mR:0,mT:9,mB:27,xd:[1066.1,1103.8],yd:[0,1.64],xMinor:2,xMajor:10,yMinor:0.1,yMajor:0.5,
  xLabels:p4_xt,xFont:15.5,data:p4_data,err:0.03,dataW:3.5,dotR:2,cap:3,
  comps:[{pts:p4_cont,c:COL.nl},{pts:p4_bl1,c:COL.bl},{pts:p4_bl2,c:COL.bl},{pts:p4_nl_hei,c:COL.nl,dash:"7,4",w:1.8},{pts:p4_nl_pag,c:COL.nl,dash:"4,3"}],
  total:p4_total,totalDash:"8,3",names:[["NIR Xsh",18,18,16.5]],lines:p4_lines,lineFont:11},
 {L:660,R:1017,T:206,B:367,mL:5,mR:4,mT:5,mB:26,xd:[1267.0,1293.2],yd:[0,1.607],xMinor:1,xMajor:10,yMinor:0.13,
  xLabels:p7_xt,xFont:16.5,data:p7_data,dataW:4,dotR:2,cap:4,
  comps:[{pts:p7_cont,c:COL.nl},{pts:p7_bl,c:COL.bl},{pts:p7_other,c:COL.other},{pts:p7_cont,c:"#1f55d8",w:1.2},{pts:p7_nl,c:COL.nl,dash:"7,4",w:1.8}],
  total:p7_total,totalDash:"8,3",names:[["NGC 7314",17,16,16],["NIR Xsh",17,36,16]],lines:p7_lines,lineFont:11.5},
 {L:1027,R:1345,T:206,B:372,mL:6,mR:0,mT:5,mB:26,xd:[1075.19,1098.2],yd:[0,1.657],xMinor:2,xMajor:10,yMinor:0.13,
  xLabels:p8_xt,xFont:17,data:p8_data,err:0.025,dataW:4,dotR:2,cap:4,
  comps:[{pts:p8_cont,c:COL.nl},{pts:p8_bl,c:COL.bl},{pts:p8_other_hei,c:COL.other},{pts:p8_other_pag,c:COL.other},{pts:p8_cont,c:"#1f55d8",w:1.2},{pts:p8_nl_hei,c:COL.nl,dash:"6,3",w:1.8},{pts:p8_nl_pag,c:COL.nl,dash:"4,3"}],
  total:p8_total,totalDash:"8,3",names:[["NIR Xsh",6,20,16.5]],lines:p8_lines,lineFont:11.5},
 {L:663,R:993,T:401,B:652,mL:24,mR:18,mT:4,mB:22,xd:[1272.89,1290.0],yd:[0.40,1.595],xMinor:1,xMajor:10,yMinor:0.1,yMajor:0.5,
  xLabels:p9_xt,xFont:16,yLabels:p9_yt,yFont:12,yDx:4,data:p9_data,err:0.016,dataW:3,dotR:2,cap:3,
  comps:[{pts:p9_bl,c:COL.bl},{pts:p9_other,c:COL.other},{pts:p9_nl_base,c:COL.nl,dash:"8,5"},{pts:p9_nl_fe,c:COL.nl},{pts:p9_nl_pab,c:COL.nl,dash:"8,4",w:1.8}],
  total:p9_total,totalDash:"8,3",totalW:2,names:[["ESO 234-G050",10,16,15],["NIR Xsh",10,32,15]],lines:p9_lines,lineFont:11.5},
 {L:1015,R:1345,T:401,B:642,mL:20,mR:0,mT:4,mB:22,xd:[12541.6,12986.1],yd:[0.51,2.75],xMinor:20,xMajor:100,yMinor:0.2,yMajor:1,
  xLabels:p10_xt,xFmt:fmtE4,xFont:16,yLabels:p10_yt,yFont:14,data:p10_data,err:0.035,dataW:1.6,dotR:1.9,
  comps:[{pts:p10_cont,c:COL.nl},{pts:p10_bl,c:COL.bl,w:2},{pts:p10_nl_fe1,c:COL.nl,dash:"6,3"},{pts:p10_nl_fe2,c:COL.nl},{pts:p10_nl_pab,c:COL.nl,dash:"7,4",w:1.8}],
  total:p10_total,totalDash:"8,3",totalW:2,names:[["NGC 4395",7,14,14.4],["LUCI",7,37,14.4]],lines:p10_lines,lineFont:11.5},
 {L:703,R:1345,T:674,B:947,mL:46,mR:0,mT:4,mB:31,xd:[12529.3,12933.7],yd:[2.107,8.82],xMinor:20,xMajor:100,yMinor:0.2,yMajor:1,
  xLabels:p13_xt,xFmt:fmtE4,xFont:16,yLabels:p13_yt,yFont:16,data:p13_data,err:0.14,dataW:4,dotR:2.2,cap:3,
  comps:[{pts:p13_cont,c:COL.nl,w:2},{pts:p13_other_fe,c:COL.other},{pts:p13_other_pab,c:COL.other},{pts:p13_bl,c:COL.bl},{pts:p13_nl_fe2,c:COL.nl},{pts:p13_nl_fe,c:COL.nl,dash:"8,4",w:1.8},{pts:p13_nl_pab,c:COL.nl,dash:"8,4",w:1.8}],
  total:p13_total,names:[["Mrk 1210",19,18,17],["ISAAC (MR)",19,39,16]],lines:p13_lines,lineFont:11.5,
  ylabel:{text:"Flux [10⁻¹⁶ erg s⁻¹ cm⁻² Å⁻¹]",anchor:"top-left",dx:-36,dy:14,ta:"end",size:16.5}}
];
panels.forEach(build);

// legend (inside the Mrk 1210 panel)
const legendColors=[COL.nl,COL.other,COL.bl];
function abs(tag,css,text){const e=document.createElement(tag);e.style.cssText="position:absolute;"+css;if(text!=null)e.textContent=text;page.appendChild(e);return e;}
abs("div","left:863px;top:716px;font:28px 'Liberation Sans',Arial,sans-serif;line-height:34px;color:#222;white-space:nowrap;",legendTitle);
legendLabels.forEach((t,i)=>{
  const y=767+i*23;
  abs("div",`left:870px;top:${y-1.5}px;width:54px;height:3px;background:${legendColors[i]};`);
  abs("div",`left:946px;top:${y-11}px;font:18px 'Liberation Sans',Arial,sans-serif;line-height:22px;color:#222;white-space:nowrap;`,t);
});
// banner
abs("div","left:18px;top:915px;width:657px;height:63px;background:#FFC000;");
abs("div","left:18px;top:922px;width:657px;height:56px;text-align:center;font:46.5px 'Liberation Sans',Arial,sans-serif;line-height:56px;color:#000;white-space:nowrap;","Onori +2017a MNRAS");
</script></body></html>
